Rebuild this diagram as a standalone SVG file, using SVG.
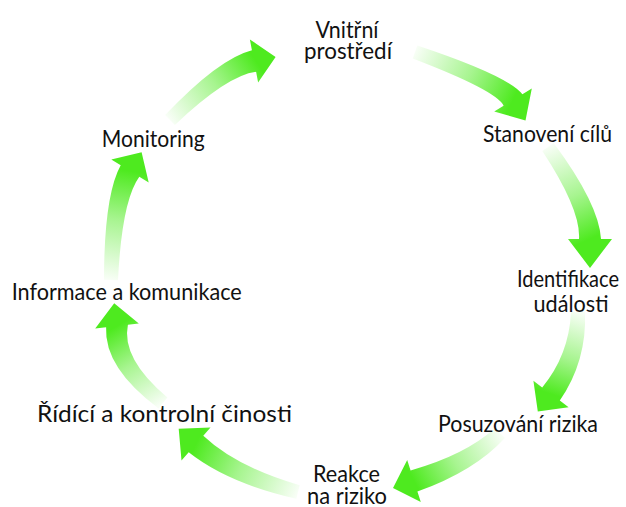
<svg xmlns="http://www.w3.org/2000/svg" xmlns:xlink="http://www.w3.org/1999/xlink" width="626" height="507" viewBox="0 0 626 507">
  <style>
    .lbl { font-family: "Lato", "Open Sans", "Liberation Sans", sans-serif; font-size: 23px; fill: #111; text-anchor: middle; }
  </style>
  <defs>
    <!-- shared fade: pale at the tail, saturated green at the head -->
    <linearGradient id="fade">
      <stop offset="0" stop-color="#4eea1f" stop-opacity="0.04"/>
      <stop offset="0.55" stop-color="#4eea1f" stop-opacity="0.5"/>
      <stop offset="1" stop-color="#4eea1f" stop-opacity="1"/>
    </linearGradient>
    <linearGradient id="g1" href="#fade" xlink:href="#fade" gradientUnits="userSpaceOnUse" x1="170" y1="120" x2="256" y2="61"/>
    <linearGradient id="g2" href="#fade" xlink:href="#fade" gradientUnits="userSpaceOnUse" x1="415" y1="52" x2="513" y2="100"/>
    <linearGradient id="g3" href="#fade" xlink:href="#fade" gradientUnits="userSpaceOnUse" x1="548" y1="147" x2="590" y2="239"/>
    <linearGradient id="g4" href="#fade" xlink:href="#fade" gradientUnits="userSpaceOnUse" x1="578" y1="312" x2="551" y2="394"/>
    <linearGradient id="g5" href="#fade" xlink:href="#fade" gradientUnits="userSpaceOnUse" x1="500" y1="433" x2="414" y2="481"/>
    <linearGradient id="g6" href="#fade" xlink:href="#fade" gradientUnits="userSpaceOnUse" x1="298" y1="492" x2="196" y2="444"/>
    <linearGradient id="g7" href="#fade" xlink:href="#fade" gradientUnits="userSpaceOnUse" x1="163" y1="403" x2="117" y2="326"/>
    <linearGradient id="g8" href="#fade" xlink:href="#fade" gradientUnits="userSpaceOnUse" x1="111" y1="280" x2="130" y2="171"/>
  </defs>

  <!-- curved cycle arrows -->
  <g id="connectors">
    <path id="a1" fill="url(#g1)" d="M174.9,124.9 Q227.4,75.3 256.1,71.8 L258.1,82.6 L275.6,56.9 L249.9,39.4 L251.9,50.2 Q218.6,58.7 165.1,115.1 Z"/>
    <path id="a2" fill="url(#g2)" d="M412.7,58.6 Q496.0,90.4 503.6,105.7 L494.2,111.4 L525.5,120.5 L531.8,88.6 L522.4,94.3 Q508.0,75.6 417.3,45.4 Z"/>
    <path id="a3" fill="url(#g3)" d="M542.3,151.0 Q581.0,209.8 579,239 L568,239 L590,268 L612,239 L601,239 Q599.0,204.2 553.7,143.0 Z"/>
    <path id="a4" fill="url(#g4)" d="M571,312 Q569,355 542.2,387.4 L533.4,380.8 L537.8,411.6 L568.6,407.2 L559.8,400.6 Q587,361 585,312 Z"/>
    <path id="a5" fill="url(#g5)" d="M495.1,428.1 Q465.2,455.1 410.6,470.5 L407.2,460.1 L393,488 L420.8,501.9 L417.4,491.5 Q474.8,470.9 504.9,437.9 Z"/>
    <path id="a6" fill="url(#g6)" d="M299.7,485.2 Q236.3,466.8 203.3,435.7 L210.5,427.5 L178.7,428.8 L181.5,460.5 L188.7,452.3 Q227.7,483.2 296.3,498.8 Z"/>
    <path id="a7" fill="url(#g7)" d="M167.4,397.5 Q121.0,358.3 127.9,324.7 L138.8,323.4 L114.2,303.2 L95.2,328.6 L106.1,327.3 Q104.0,367.8 158.6,408.5 Z"/>
    <path id="a8" fill="url(#g8)" d="M118,280.2 Q121.9,200.7 139.3,176.8 L148.7,182.6 L141.6,152.3 L111.3,159.4 L120.7,165.2 Q104.1,195.3 104,279.8 Z"/>
  </g>

  <!-- stage labels -->
  <g id="vnitrni-prostredi">
    <text class="lbl" x="347" y="38" textLength="63" lengthAdjust="spacingAndGlyphs">Vnitřní</text>
    <text class="lbl" x="348" y="59" textLength="88" lengthAdjust="spacingAndGlyphs">prostředí</text>
  </g>
  <g id="stanoveni-cilu">
    <text class="lbl" x="547.5" y="141.5" textLength="129" lengthAdjust="spacingAndGlyphs">Stanovení cílů</text>
  </g>
  <g id="identifikace-udalosti">
    <text class="lbl" x="568" y="286.5" textLength="102" lengthAdjust="spacingAndGlyphs">Identifikace</text>
    <text class="lbl" x="571" y="311.5" textLength="75" lengthAdjust="spacingAndGlyphs">události</text>
  </g>
  <g id="posuzovani-rizika">
    <text class="lbl" x="518" y="431.5" textLength="160" lengthAdjust="spacingAndGlyphs">Posuzování rizika</text>
  </g>
  <g id="reakce-na-riziko">
    <text class="lbl" x="346.5" y="481.5" textLength="67" lengthAdjust="spacingAndGlyphs">Reakce</text>
    <text class="lbl" x="347" y="503.5" textLength="80" lengthAdjust="spacingAndGlyphs">na riziko</text>
  </g>
  <g id="ridici-a-kontrolni-cinnosti">
    <text class="lbl" x="164.5" y="422" textLength="255" lengthAdjust="spacingAndGlyphs">Řídící a kontrolní činosti</text>
  </g>
  <g id="informace-a-komunikace">
    <text class="lbl" x="126.7" y="300" textLength="230" lengthAdjust="spacingAndGlyphs">Informace a komunikace</text>
  </g>
  <g id="monitoring">
    <text class="lbl" x="153.3" y="146.5" textLength="103" lengthAdjust="spacingAndGlyphs">Monitoring</text>
  </g>
</svg>
